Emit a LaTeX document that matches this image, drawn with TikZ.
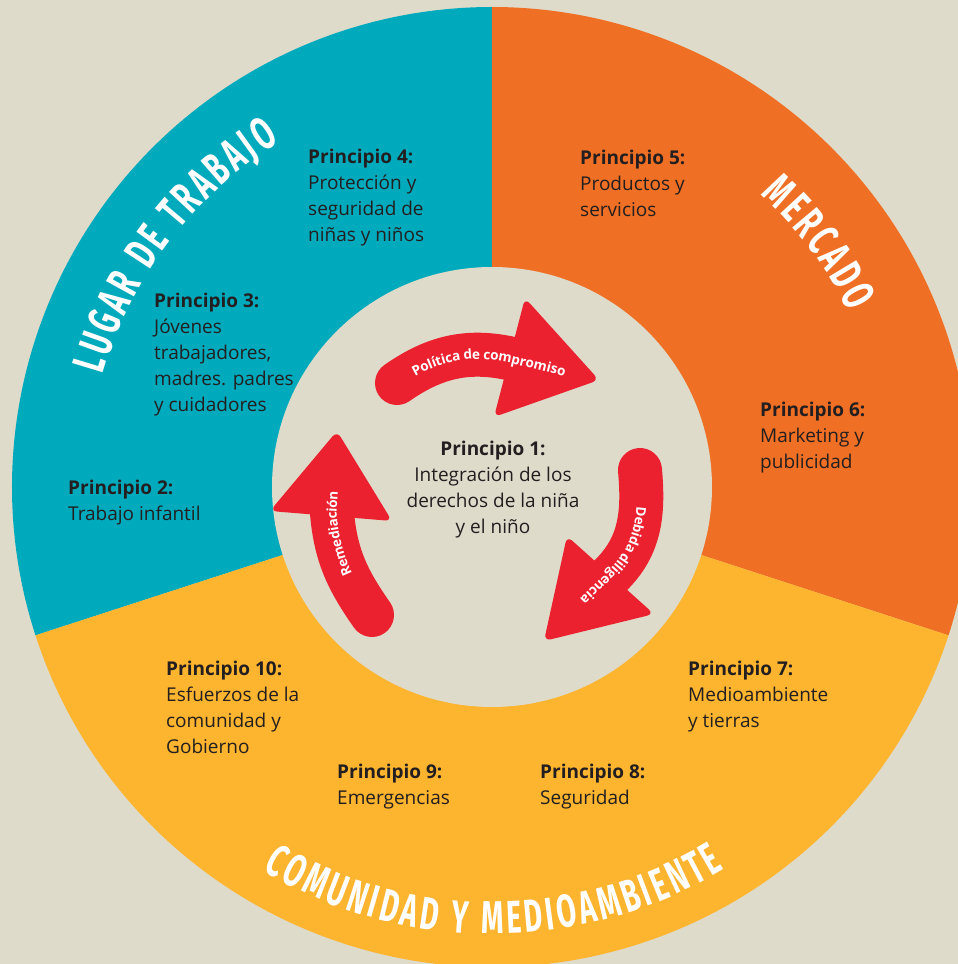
\documentclass[tikz,border=0pt]{standalone}
\usepackage{fontspec}
\setmainfont{Open Sans}
\newfontfamily\ringfont[FakeStretch=0.62]{Fira Sans}
\usetikzlibrary{decorations.text}

\definecolor{bgcol}{HTML}{DFDBCA}
\definecolor{workcol}{HTML}{00AABD}
\definecolor{marketcol}{HTML}{EF6F24}
\definecolor{commcol}{HTML}{FDB42F}
\definecolor{arrowred}{HTML}{EC2130}
\definecolor{inkcol}{HTML}{231F20}

\begin{document}
\begin{tikzpicture}[x=1pt, y=1pt, line join=round,
	ptext/.style={anchor=north west, align=left, inner sep=0pt, text=inkcol, font=\fontsize{19}{26}\selectfont},
	shaft/.style={draw=arrowred, line width=44pt, line cap=round},
	head/.style={fill=arrowred, rounded corners=7pt},
	arrowlabel/.style={decorate, decoration={text along path, text align=center, raise=-4.5pt, text color=white}},
	ringlabel/.style={decorate, decoration={text along path, text align=center, text color=white}}]
	\useasboundingbox (-492,-477) rectangle (466,487);
	\fill[bgcol] (-492,-477) rectangle (466,487);
	\clip (-492,-477) rectangle (466,487);
	% the three sectors and the middle disc
	\fill[workcol] (0,0) -- (90:480) arc[start angle=90, end angle=198, radius=480] -- cycle;
	\fill[marketcol] (0,0) -- (-18:480) arc[start angle=-18, end angle=90, radius=480] -- cycle;
	\fill[commcol] (0,0) -- (198:480) arc[start angle=198, end angle=342, radius=480] -- cycle;
	\fill[bgcol] (0,0) circle (220);
	% titles along the ring
	\path[ringlabel, decoration={text={|\ringfont\bfseries\fontsize{46}{46}\selectfont\kern3.5pt|LUGAR DE TRABAJO}}] (173:405) arc[start angle=173, end angle=113, radius=405];
	\path[ringlabel, decoration={text={|\ringfont\bfseries\fontsize{46}{46}\selectfont\kern3.5pt|MERCADO}}] (62:397) arc[start angle=62, end angle=12, radius=397];
	\path[ringlabel, decoration={text={|\ringfont\bfseries\fontsize{46}{46}\selectfont\kern3.5pt|COMUNIDAD Y MEDIOAMBIENTE}}] (-140:447) arc[start angle=-140, end angle=-40, radius=447];
	% principles
	\node[ptext] (p4) at (-184,338) {\textbf{Principio 4:}\\Protección y\\seguridad de\\niñas y niños};
	\node[ptext] (p5) at (88,337) {\textbf{Principio 5:}\\Productos y\\servicios};
	\node[ptext] (p3) at (-338,194) {\textbf{Principio 3:}\\Jóvenes\\trabajadores,\\madres. padres\\y cuidadores};
	\node[ptext] (p6) at (268,85) {\textbf{Principio 6:}\\Marketing y\\publicidad};
	\node[ptext] (p2) at (-424,7) {\textbf{Principio 2:}\\Trabajo infantil};
	\node[ptext, anchor=north, align=center] (p1) at (1,46) {\textbf{Principio 1:}\\Integración de los\\derechos de la niña\\y el niño};
	\node[ptext] (p10) at (-326,-174) {\textbf{Principio 10:}\\Esfuerzos de la\\comunidad y\\Gobierno};
	\node[ptext] (p7) at (196,-174) {\textbf{Principio 7:}\\Medioambiente\\y tierras};
	\node[ptext] (p9) at (-155,-277) {\textbf{Principio 9:}\\Emergencias};
	\node[ptext] (p8) at (48,-277) {\textbf{Principio 8:}\\Seguridad};
	% cycle arrows
	\draw[shaft] (-95,104) to[out=35,in=166] (25,127);
	\fill[head] (33,189) -- (107,107) -- (2,70) -- cycle;
	\path[arrowlabel, decoration={text={|\bfseries\fontsize{13.5}{13.5}\selectfont|Política de compromiso}}] (-95,104) to[out=35,in=166] (25,127) -- (92,110);
	\draw[shaft] (148,17) to[out=-85,in=44] (118,-89);
	\fill[head] (75,-49) -- (162,-127) -- (52,-154) -- cycle;
	\path[arrowlabel, decoration={text={|\bfseries\fontsize{13.5}{13.5}\selectfont|Debida diligencia}}] (148,17) to[out=-85,in=44] (118,-89) -- (64,-141);
	\draw[shaft] (-120,-128) to[out=125,in=-85] (-160,-26);
	\fill[head] (-222,-24) -- (-100,-34) -- (-155,56) -- cycle;
	\path[arrowlabel, decoration={text={|\bfseries\fontsize{13.5}{13.5}\selectfont|Remediación}}] (-120,-128) to[out=125,in=-85] (-160,-26) -- (-156,42);
\end{tikzpicture}
\end{document}
